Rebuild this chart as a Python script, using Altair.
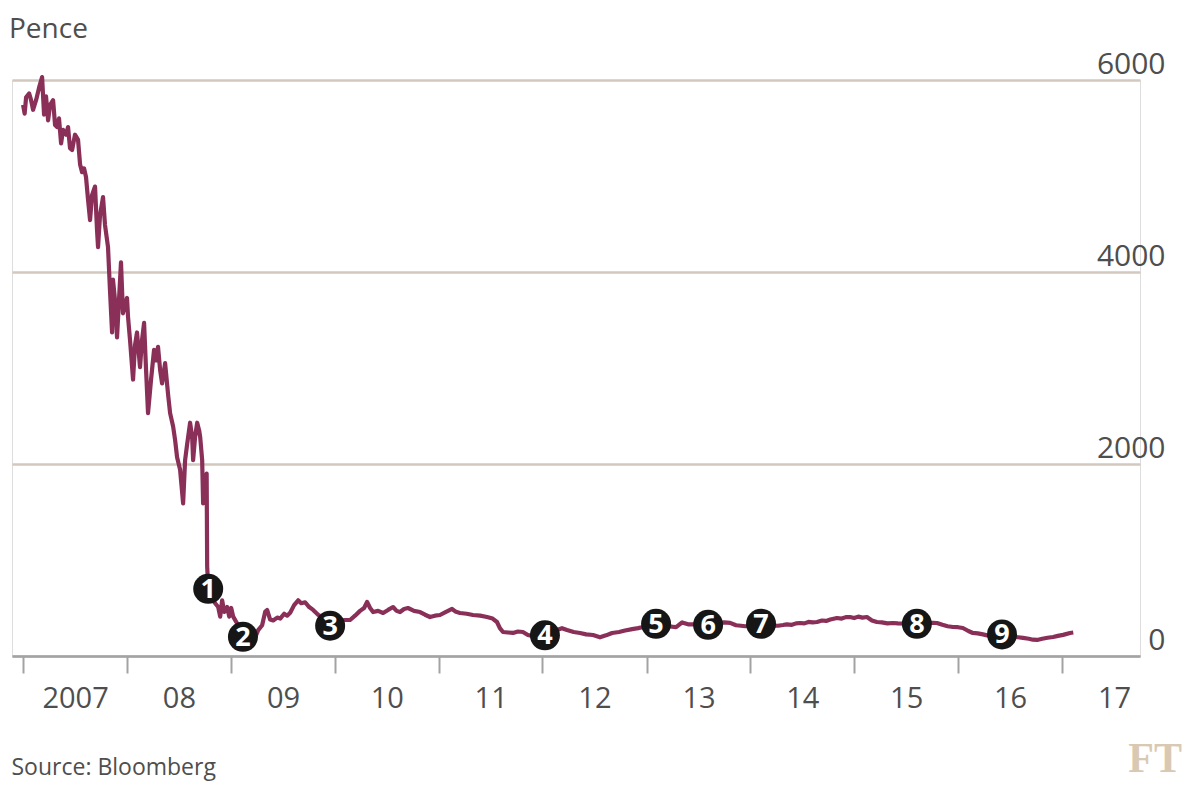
import altair as alt
import pandas as pd
import numpy as np

# ---- Share price (pence): decimal year, value ----
years_0708 = [2007.000, 2007.015, 2007.029, 2007.058, 2007.077, 2007.096, 2007.125, 2007.154, 2007.183,
              2007.202, 2007.221, 2007.241, 2007.260, 2007.289, 2007.308, 2007.327, 2007.346,
              2007.366, 2007.385, 2007.414, 2007.433, 2007.452, 2007.472, 2007.500, 2007.529,
              2007.549, 2007.568, 2007.587, 2007.606, 2007.626, 2007.645, 2007.664, 2007.693,
              2007.712, 2007.722, 2007.741, 2007.770, 2007.789, 2007.818, 2007.837, 2007.857,
              2007.866, 2007.885, 2007.905, 2007.924, 2007.943, 2007.962, 2007.982, 2008.001,
              2008.011, 2008.030, 2008.059, 2008.078, 2008.097, 2008.126, 2008.145, 2008.165,
              2008.184, 2008.203, 2008.232, 2008.261, 2008.280, 2008.299, 2008.319, 2008.338,
              2008.367, 2008.396, 2008.415, 2008.444, 2008.463, 2008.482, 2008.511, 2008.540,
              2008.559, 2008.578, 2008.607, 2008.627, 2008.636, 2008.655, 2008.675, 2008.694,
              2008.704, 2008.723, 2008.732, 2008.752, 2008.766, 2008.771, 2008.781]
pence_0708 = [5740, 5650, 5820, 5860, 5790, 5690, 5790, 5920, 6030,
              5640, 5830, 5580, 5740, 5790, 5530, 5510, 5600,
              5340, 5480, 5430, 5510, 5290, 5270, 5430, 5380,
              5120, 5040, 5080, 4990, 4750, 4540, 4800, 4890,
              4440, 4260, 4590, 4780, 4490, 4260, 3810, 3370,
              3920, 3710, 3320, 3710, 4100, 3570, 3660, 3730,
              3530, 3290, 2880, 3240, 3370, 3010, 3290, 3470,
              2980, 2530, 2880, 3190, 3080, 3220, 2980, 2840,
              3050, 2720, 2530, 2390, 2250, 2070, 1940, 1590,
              2040, 2200, 2430, 2280, 2040, 2280, 2430, 2350,
              2280, 2040, 1590, 1830, 1900, 930, 720]

years_0911 = [2008.840, 2008.877, 2008.896, 2008.915, 2008.935, 2008.963, 2008.983, 2009.002,
              2009.021, 2009.069, 2009.137, 2009.204, 2009.262, 2009.300, 2009.329, 2009.348,
              2009.377, 2009.406, 2009.445, 2009.474, 2009.512, 2009.541, 2009.570, 2009.608,
              2009.647, 2009.676, 2009.714, 2009.753, 2009.791, 2009.839, 2009.955, 2010.099,
              2010.147, 2010.195, 2010.243, 2010.282, 2010.311, 2010.340, 2010.369, 2010.417,
              2010.465, 2010.513, 2010.561, 2010.595, 2010.628, 2010.667, 2010.705, 2010.763,
              2010.821, 2010.869, 2010.917, 2010.965, 2011.013, 2011.071, 2011.129, 2011.167,
              2011.206, 2011.270, 2011.331, 2011.400, 2011.466, 2011.520, 2011.562, 2011.590,
              2011.620, 2011.668, 2011.716, 2011.764, 2011.812, 2011.860, 2011.880]
pence_0911 = [560, 510, 410, 580, 460, 510, 410, 500,
              410, 320, 170, 120, 270, 320, 460, 480,
              380, 370, 400, 390, 440, 420, 450, 530,
              580, 550, 560, 510, 480, 430, 350, 375,
              375, 420, 470, 500, 563, 500, 458, 470,
              448, 480, 510, 470, 458, 490, 500, 470,
              458, 430, 406, 420, 427, 460, 490, 460,
              448, 440, 427, 420, 406, 390, 354, 290,
              250, 245, 240, 255, 250, 219, 215]

years_1217 = [2012.024, 2012.188, 2012.236, 2012.300, 2012.361, 2012.420, 2012.486, 2012.553,
              2012.611, 2012.669, 2012.736, 2012.794, 2012.862, 2012.919, 2012.958, 2013.092,
              2013.246, 2013.285, 2013.343, 2013.400, 2013.593, 2013.747, 2013.805, 2013.862,
              2013.910, 2013.949, 2014.103, 2014.267, 2014.315, 2014.350, 2014.400, 2014.440,
              2014.478, 2014.520, 2014.560, 2014.600, 2014.642, 2014.690, 2014.730, 2014.770,
              2014.834, 2014.880, 2014.920, 2014.959, 2015.000, 2015.040, 2015.080, 2015.123,
              2015.171, 2015.219, 2015.267, 2015.320, 2015.373, 2015.421, 2015.604, 2015.758,
              2015.797, 2015.850, 2015.900, 2015.951, 2016.000, 2016.047, 2016.100, 2016.143,
              2016.190, 2016.240, 2016.280, 2016.423, 2016.577, 2016.625, 2016.680, 2016.720,
              2016.760, 2016.810, 2016.860, 2016.914, 2016.960, 2017.010, 2017.077, 2017.108]
pence_1217 = [230, 290, 271, 250, 240, 225, 219, 195,
              215, 240, 250, 265, 280, 290, 300, 315,
              305, 300, 350, 330, 330, 350, 345, 320,
              315, 310, 320, 315, 323, 330, 325, 340,
              344, 340, 355, 350, 354, 370, 365, 380,
              396, 390, 405, 406, 395, 410, 400, 406,
              370, 354, 350, 340, 344, 340, 335, 345,
              344, 325, 310, 302, 300, 292, 260, 240,
              235, 225, 215, 210, 195, 188, 180, 170,
              167, 180, 190, 198, 210, 220, 240, 245]

# ---- Numbered event markers ----
marker_labels = ["1", "2", "3", "4", "5", "6", "7", "8", "9"]
marker_years = [2008.781, 2009.115, 2009.955, 2012.024, 2013.092, 2013.593, 2014.103, 2015.604, 2016.423]
marker_pence = [700, 200, 315, 215, 335, 325, 335, 335, 225]

# ---- Axis ----
tick_years = list(range(2007, 2018))
y_ticks = [0, 2000, 4000, 6000]

LINE = "#8a2f58"
TEXT = "#4e4e4e"
FONT = "Open Sans"


def to_date(v):
    yr = int(np.floor(v))
    start = pd.Timestamp(year=yr, month=1, day=1)
    end = pd.Timestamp(year=yr + 1, month=1, day=1)
    return start + (end - start) * (v - yr)


series = pd.DataFrame({
    "date": [to_date(v) for v in years_0708 + years_0911 + years_1217],
    "pence": pence_0708 + pence_0911 + pence_1217,
})
markers = pd.DataFrame({
    "date": [to_date(v) for v in marker_years],
    "pence": marker_pence,
    "label": marker_labels,
})

x_scale = alt.Scale(domain=[alt.DateTime(year=2006, month=11, date=23),
                            alt.DateTime(year=2017, month=10, date=2)])
y_scale = alt.Scale(domain=[0, 6000], nice=False, zero=True)

x_axis = alt.Axis(
    values=[alt.DateTime(year=y, month=1, date=1) for y in tick_years],
    labelExpr="year(datum.value) == 2007 ? '2007' : timeFormat(datum.value, '%y')",
    labelOffset=52, labelAlign="center", labelBaseline="top", labelPadding=11,
    labelFontSize=29, labelColor=TEXT, labelFont=FONT, labelOverlap=False, labelFlush=False,
    grid=False, domainColor="#a3a3a3", domainWidth=2.5,
    tickColor="#a3a3a3", tickWidth=2, tickSize=17,
    title="Source: Bloomberg", titleX=-1, titleY=118, titleAlign="left", titleAnchor="start",
    titleBaseline="alphabetic", titleFontSize=23, titleFontWeight="normal", titleColor=TEXT,
    titleFont=FONT, zindex=1,
)
y_axis = alt.Axis(
    orient="right", values=y_ticks, format="d", domain=False, ticks=False, tickSize=0,
    labelPadding=25, labelAlign="right", labelBaseline="alphabetic", labelOffset=-7,
    labelFontSize=30, labelColor=TEXT, labelFont=FONT,
    grid=True, gridColor="#d2c8bd", gridWidth=2.5, title=None,
)

line = alt.Chart(series).mark_line(color=LINE, strokeWidth=4.2, strokeJoin="round").encode(
    x=alt.X("date:T", scale=x_scale, axis=x_axis),
    y=alt.Y("pence:Q", scale=y_scale, axis=y_axis),
)
dots = alt.Chart(markers).mark_circle(size=900, color="#161616", opacity=1).encode(
    x="date:T", y="pence:Q",
)
nums = alt.Chart(markers).mark_text(
    color="white", fontSize=27, fontWeight="bold", font=FONT, align="center", baseline="middle", dy=1
).encode(x="date:T", y="pence:Q", text="label:N")

unit = alt.Chart(pd.DataFrame({"t": ["Pence"]})).mark_text(
    font=FONT, fontSize=28, color=TEXT, align="left", baseline="alphabetic",
).encode(x=alt.value(-3), y=alt.value(-42), text="t:N")

logo = alt.Chart(pd.DataFrame({"t": ["FT"]})).mark_text(
    font="Liberation Serif", fontSize=42, fontWeight="bold", color="#d9c9b3",
    align="right", baseline="alphabetic",
).encode(x=alt.value(1170), y=alt.value(692), text="t:N")

chart = alt.layer(line, dots, nums, unit, logo).properties(
    width=1128, height=576,
    autosize=alt.AutoSizeParams(type="none"),
    padding={"left": 4, "top": 72, "right": 44, "bottom": 127},
).configure_view(stroke=None).configure(background="white")

chart.save("out.html", embed_options={"renderer": "svg", "actions": False})
